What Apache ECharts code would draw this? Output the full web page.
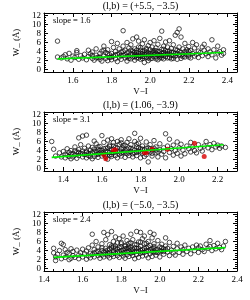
<!DOCTYPE html>
<html><head><meta charset="utf-8">
<script src="https://cdn.jsdelivr.net/npm/echarts@6/dist/echarts.min.js"></script>
<style>html,body{margin:0;padding:0;background:#fff}#c{width:250px;height:300px}</style>
</head><body><div id="c"></div>
<script>
// Panel titles and fit slopes
const panelTitles = ["(l,b) = (+5.5, \u22123.5)", "(l,b) = (1.06, \u22123.9)", "(l,b) = (\u22125.0, \u22123.5)"];
const slopeLabels = ["slope = 1.6", "slope = 3.1", "slope = 2.4"];
const xRanges = [[1.45, 2.45], [1.3, 2.3], [1.4, 2.4]];
const yRange = [-0.5, 12.5];

// Panel 1 stars (V-I, W)
const panel1Points = [[1.52,6.3],[1.52,2.8],[1.54,2.6],[1.55,2.9],[1.56,3.3],[1.57,2.4],[1.58,3.6],[1.59,2.1],[1.60,3.0],[1.61,2.7],[1.62,4.2],[1.62,3.8],[1.63,2.3],[1.64,3.1],[1.65,2.6],[1.66,3.4],[1.67,2.2],[1.68,4.3],[1.68,2.9],[1.69,3.5],[1.70,2.5],[1.70,3.9],[1.71,2.1],[1.72,3.2],[1.72,4.6],[1.73,2.7],[1.74,3.6],[1.74,2.3],[1.75,4.1],[1.75,1.9],[1.76,3.0],[1.76,5.2],[1.77,2.5],[1.77,3.8],[1.78,2.0],[1.78,4.4],[1.79,3.3],[1.79,2.7],[1.80,6.2],[1.80,3.6],[1.80,2.2],[1.81,4.9],[1.81,3.0],[1.82,2.4],[1.82,4.0],[1.83,5.8],[1.83,3.4],[1.83,1.8],[1.84,2.8],[1.84,4.6],[1.85,3.9],[1.85,2.3],[1.86,8.6],[1.86,3.2],[1.86,5.2],[1.87,2.6],[1.87,4.3],[1.88,3.7],[1.88,1.9],[1.88,6.0],[1.89,3.0],[1.89,4.8],[1.90,2.4],[1.90,3.5],[1.90,5.5],[1.91,4.1],[1.91,2.8],[1.91,6.8],[1.92,3.3],[1.92,2.1],[1.92,4.6],[1.93,7.2],[1.93,3.8],[1.93,2.6],[1.94,5.0],[1.94,3.1],[1.94,6.3],[1.95,4.3],[1.95,2.3],[1.95,3.6],[1.96,5.7],[1.96,2.9],[1.96,4.0],[1.97,3.4],[1.97,6.6],[1.97,1.6],[1.98,4.7],[1.98,2.7],[1.98,3.9],[1.99,5.3],[1.99,3.2],[1.99,2.0],[2.00,4.4],[2.00,6.0],[2.00,3.0],[2.01,3.7],[2.01,2.5],[2.01,5.0],[2.02,4.2],[2.02,3.3],[2.02,6.4],[2.03,2.8],[2.03,4.8],[2.03,3.6],[2.04,5.6],[2.04,2.2],[2.04,4.0],[2.05,3.4],[2.05,6.9],[2.05,2.6],[2.06,8.5],[2.06,4.5],[2.06,3.1],[2.07,5.2],[2.07,2.4],[2.07,3.8],[2.08,4.2],[2.08,6.1],[2.08,2.9],[2.09,3.5],[2.09,5.0],[2.10,2.7],[2.10,4.1],[2.10,6.4],[2.11,3.2],[2.11,4.7],[2.12,2.5],[2.12,3.8],[2.12,5.5],[2.13,7.6],[2.13,3.0],[2.13,4.4],[2.14,8.2],[2.14,2.3],[2.14,3.6],[2.15,9.0],[2.15,5.0],[2.15,4.0],[2.16,7.2],[2.16,3.1],[2.16,2.5],[2.17,4.6],[2.17,3.4],[2.18,5.8],[2.18,2.8],[2.19,3.9],[2.19,4.4],[2.20,3.2],[2.20,5.1],[2.21,2.6],[2.21,4.2],[2.22,3.6],[2.22,6.0],[2.23,3.0],[2.23,4.8],[2.24,5.5],[2.24,3.4],[2.25,2.7],[2.25,4.1],[2.26,3.8],[2.27,5.0],[2.27,3.1],[2.28,5.6],[2.28,4.3],[2.29,3.5],[2.30,2.9],[2.30,4.6],[2.31,3.9],[2.32,6.6],[2.32,3.3],[2.33,4.4],[2.34,2.6],[2.35,5.2],[2.35,3.7],[2.36,4.0],[2.37,3.2],[2.38,4.4],[2.38,3.6],
[1.84,3.5],[1.85,3.1],[1.86,4.0],[1.87,3.3],[1.88,2.9],[1.89,3.9],[1.89,2.5],[1.90,4.3],[1.91,3.4],[1.92,3.9],[1.92,2.9],[1.93,4.3],[1.93,3.2],[1.94,3.7],[1.94,2.6],[1.95,4.9],[1.95,3.0],[1.96,3.5],[1.96,2.5],[1.97,4.2],[1.97,2.9],[1.98,3.4],[1.98,4.4],[1.99,3.7],[1.99,2.6],[2.00,3.5],[2.00,2.4],[2.01,4.1],[2.02,2.9],[2.02,3.8],[2.03,4.2],[2.03,2.4],[2.04,3.3],[2.05,4.0],[2.05,3.0],[2.06,3.6],[2.06,2.6],[2.07,4.5],[2.07,3.2],[2.08,3.5],[2.09,2.6],[2.09,4.0],[2.10,3.5],[2.11,2.4],[2.11,3.8],[2.12,3.1],[2.13,3.6],[2.14,4.3],[2.15,3.3],[2.16,3.8],[2.17,2.9],[2.18,4.0],[2.19,3.3],[2.20,2.8],[2.20,4.0],[1.78,3.5],[1.80,2.8],[1.82,3.3],[1.76,4.3],[1.74,2.8],[1.72,2.6],[1.70,3.1]];

const panel2Points = [[1.34,6.0],[1.35,4.3],[1.36,2.8],[1.38,3.5],[1.39,2.6],[1.40,3.8],[1.41,3.2],[1.41,2.4],[1.42,4.4],[1.42,3.0],[1.43,2.7],[1.43,3.6],[1.44,2.2],[1.44,4.0],[1.45,3.3],[1.45,2.6],[1.46,4.8],[1.46,3.0],[1.47,3.7],[1.47,2.3],[1.48,6.8],[1.48,4.2],[1.48,2.9],[1.49,3.4],[1.49,5.3],[1.50,7.2],[1.50,2.6],[1.50,3.9],[1.51,4.5],[1.51,3.1],[1.52,7.4],[1.52,2.4],[1.52,3.6],[1.53,5.0],[1.53,2.9],[1.54,4.1],[1.54,3.3],[1.55,2.2],[1.55,4.7],[1.56,3.7],[1.56,6.1],[1.56,2.7],[1.57,3.1],[1.57,5.5],[1.58,4.3],[1.58,2.5],[1.59,3.5],[1.59,4.9],[1.60,7.3],[1.60,2.8],[1.60,4.0],[1.61,3.3],[1.61,5.8],[1.62,2.6],[1.62,4.5],[1.63,3.7],[1.63,6.3],[1.63,2.1],[1.64,3.0],[1.64,5.2],[1.65,4.2],[1.65,2.7],[1.65,6.6],[1.66,3.5],[1.66,5.0],[1.67,2.9],[1.67,4.7],[1.68,3.8],[1.68,6.0],[1.68,2.4],[1.69,3.2],[1.69,5.4],[1.70,4.4],[1.70,2.8],[1.70,6.4],[1.71,3.6],[1.71,5.1],[1.72,2.5],[1.72,4.1],[1.73,5.8],[1.73,3.3],[1.74,4.6],[1.74,2.9],[1.74,6.6],[1.75,3.8],[1.75,5.3],[1.76,2.6],[1.76,4.3],[1.77,7.8],[1.77,3.5],[1.77,6.0],[1.78,4.8],[1.78,2.9],[1.79,3.9],[1.79,5.6],[1.80,2.4],[1.80,4.4],[1.80,6.7],[1.81,3.4],[1.81,5.0],[1.82,2.7],[1.82,4.2],[1.83,5.9],[1.83,3.1],[1.84,4.6],[1.84,1.5],[1.85,3.7],[1.85,5.3],[1.86,2.8],[1.86,4.1],[1.87,6.2],[1.88,3.5],[1.88,4.8],[1.89,2.6],[1.90,4.2],[1.90,5.5],[1.91,3.2],[1.92,4.6],[1.92,3.8],[1.93,7.7],[1.93,2.4],[1.94,5.0],[1.95,6.5],[1.95,3.6],[1.96,4.4],[1.97,3.0],[1.97,5.2],[1.98,4.0],[1.99,3.4],[1.99,5.9],[2.00,4.6],[2.01,2.8],[2.01,5.4],[2.02,4.1],[2.03,3.3],[2.04,5.0],[2.05,4.4],[2.06,3.7],[2.06,5.8],[2.07,4.8],[2.08,4.0],[2.09,3.5],[2.10,5.3],[2.11,4.5],[2.12,3.9],[2.13,5.0],[2.14,6.0],[2.15,4.6],[2.16,5.3],[2.17,4.2],[2.18,5.6],[2.19,4.8],[2.20,5.2],[2.21,4.5],[2.22,5.0],[2.24,4.7],
[1.50,3.3],[1.52,3.9],[1.53,3.4],[1.54,2.7],[1.55,3.6],[1.56,4.3],[1.57,3.8],[1.58,3.2],[1.59,4.1],[1.60,3.5],[1.61,4.4],[1.62,3.9],[1.62,3.1],[1.63,4.6],[1.64,3.6],[1.65,3.1],[1.66,4.3],[1.67,3.7],[1.68,4.5],[1.69,3.9],[1.70,3.4],[1.71,4.6],[1.72,3.7],[1.73,4.3],[1.74,3.5],[1.75,4.5],[1.76,3.3],[1.77,4.1],[1.78,3.6],[1.79,4.6],[1.80,3.7],[1.81,4.3],[1.82,3.6],[1.83,4.5],[1.84,3.9],[1.85,4.4],[1.86,3.4],[1.87,4.5],[1.88,4.1],[1.89,3.7],[1.48,3.6],[1.46,3.9],[1.44,3.3],[1.58,4.8],[1.64,4.9],[1.72,5.2],[1.78,5.4],[1.66,5.8],[1.70,5.7]];
const panel2Red = [[1.61,3.0],[1.62,2.2],[1.66,4.0],[1.67,4.2],[1.82,3.6],[1.83,3.5],[1.86,4.3],[1.94,4.3],[2.08,5.6],[2.13,2.7]];

const panel3Points = [[1.45,4.5],[1.45,3.5],[1.46,1.8],[1.46,2.6],[1.47,3.2],[1.48,4.0],[1.49,5.6],[1.49,2.2],[1.50,5.3],[1.50,3.0],[1.51,2.5],[1.51,4.2],[1.52,3.6],[1.53,2.0],[1.53,3.3],[1.54,4.4],[1.54,2.3],[1.55,2.9],[1.55,3.8],[1.56,2.5],[1.57,4.1],[1.58,3.0],[1.58,2.2],[1.59,3.5],[1.60,4.3],[1.60,2.6],[1.61,3.3],[1.62,2.1],[1.62,3.9],[1.63,2.8],[1.63,4.6],[1.64,3.4],[1.64,2.4],[1.65,7.6],[1.65,5.2],[1.65,3.1],[1.66,4.2],[1.66,2.6],[1.67,3.7],[1.67,6.0],[1.68,2.9],[1.68,4.8],[1.69,3.4],[1.69,2.3],[1.70,5.5],[1.70,4.0],[1.70,3.0],[1.71,8.0],[1.71,3.6],[1.71,2.6],[1.72,4.5],[1.72,6.4],[1.72,3.2],[1.73,7.5],[1.73,2.8],[1.73,4.1],[1.74,5.3],[1.74,3.6],[1.74,2.4],[1.75,8.2],[1.75,4.6],[1.75,3.1],[1.76,6.0],[1.76,3.9],[1.76,2.7],[1.77,5.0],[1.77,3.4],[1.77,7.0],[1.78,4.3],[1.78,2.9],[1.78,5.7],[1.79,3.8],[1.79,2.5],[1.79,6.6],[1.80,4.8],[1.80,3.3],[1.80,5.5],[1.81,4.1],[1.81,2.8],[1.81,7.2],[1.82,3.6],[1.82,5.1],[1.82,2.3],[1.83,4.5],[1.83,6.2],[1.83,3.1],[1.84,3.9],[1.84,5.6],[1.84,2.7],[1.85,4.7],[1.85,3.4],[1.85,7.6],[1.86,6.4],[1.86,2.9],[1.86,4.2],[1.87,5.3],[1.87,3.7],[1.87,2.2],[1.88,8.2],[1.88,4.5],[1.88,3.1],[1.89,5.9],[1.89,3.8],[1.89,2.5],[1.90,8.0],[1.90,4.9],[1.90,3.4],[1.91,6.6],[1.91,4.2],[1.91,2.8],[1.92,5.5],[1.92,3.6],[1.92,7.2],[1.93,4.6],[1.93,3.0],[1.94,6.0],[1.94,3.9],[1.94,2.4],[1.95,8.0],[1.95,5.1],[1.95,3.3],[1.96,4.4],[1.96,6.8],[1.96,2.7],[1.97,7.6],[1.97,3.7],[1.97,5.5],[1.98,4.2],[1.98,3.0],[1.99,6.2],[1.99,3.6],[2.00,4.8],[2.00,2.6],[2.01,5.4],[2.01,3.9],[2.02,4.4],[2.02,3.2],[2.03,6.8],[2.03,5.0],[2.04,3.7],[2.04,4.5],[2.05,2.9],[2.05,5.8],[2.06,4.1],[2.07,3.5],[2.07,4.9],[2.08,3.0],[2.09,4.4],[2.09,5.6],[2.10,3.6],[2.11,4.8],[2.12,3.2],[2.12,4.2],[2.13,5.2],[2.14,3.8],[2.15,4.5],[2.16,3.3],[2.17,4.8],[2.18,4.0],[2.19,5.2],[2.20,3.6],[2.20,4.6],[2.21,5.0],[2.22,4.2],[2.23,3.8],[2.24,5.4],[2.25,4.5],[2.26,6.2],[2.26,4.9],[2.27,4.0],[2.28,5.1],[2.29,4.4],[2.30,5.6],[2.31,4.7],[2.32,4.2],[2.33,5.0],[2.34,6.0],
[1.72,3.9],[1.74,4.3],[1.76,3.5],[1.77,4.5],[1.78,3.7],[1.79,4.6],[1.80,4.0],[1.81,3.5],[1.82,4.4],[1.83,3.8],[1.84,4.5],[1.85,4.1],[1.86,3.6],[1.87,4.6],[1.88,3.9],[1.89,4.5],[1.90,4.1],[1.91,3.6],[1.92,4.5],[1.93,4.0],[1.94,4.8],[1.95,4.2],[1.96,3.8],[1.97,4.5],[1.98,3.6],[1.99,4.3],[2.00,3.9],[2.01,4.6],[2.02,3.8],[2.03,4.2],[1.75,5.0],[1.80,5.8],[1.85,5.7],[1.90,5.9],[1.93,5.6],[1.97,4.9],[1.84,5.0],[1.88,5.3],[1.76,4.8],[1.82,4.9],[1.70,4.6],[1.68,3.8],[1.66,3.5],[1.73,3.4]];

// Linear fits (endpoints)
const fit1 = [[1.52,2.4],[2.38,3.8]];
const fit2 = [[1.34,2.5],[2.23,5.3]];
const fit3 = [[1.45,2.5],[2.34,4.65]];

const gridTops = [13, 112, 212];
const FONT = '"Liberation Serif", "DejaVu Serif", serif';
const chart = echarts.init(document.getElementById('c'), null, {renderer:'canvas'});

const grids = [], xAxes = [], yAxes = [], series = [], graphics = [];
const lineStyle = {color:'#000', width:1};
for (let i = 0; i < 3; i++) {
  grids.push({left:44, right:13, top:gridTops[i], height:59, containLabel:false});
  const showEnd = (i === 2);
  xAxes.push({type:'value', gridIndex:i, position:'bottom', min:xRanges[i][0], max:xRanges[i][1], splitNumber:5,
    axisLine:{show:true, onZero:false, lineStyle}, axisTick:{show:true, inside:true, length:4, lineStyle},
    minorTick:{show:true, splitNumber:4, length:2, lineStyle},
    splitLine:{show:false},
    axisLabel:{fontFamily:FONT, fontSize:9, color:'#000', margin:4, showMinLabel:showEnd, showMaxLabel:showEnd,
      formatter:v => v.toFixed(1)},
    name:'V\u2212I', nameLocation:'middle', nameGap:15, nameTextStyle:{fontFamily:FONT, fontSize:9, color:'#000'}});
  xAxes.push({type:'value', gridIndex:i, position:'top', min:xRanges[i][0], max:xRanges[i][1], splitNumber:5,
    axisLine:{show:true, onZero:false, lineStyle}, axisTick:{show:true, inside:true, length:4, lineStyle},
    minorTick:{show:true, splitNumber:4, length:2, lineStyle},
    splitLine:{show:false}, axisLabel:{show:false}});
  yAxes.push({type:'value', gridIndex:i, position:'left', min:yRange[0], max:yRange[1], splitNumber:6,
    axisLine:{show:true, onZero:false, lineStyle}, axisTick:{show:true, inside:true, length:4, lineStyle},
    minorTick:{show:true, splitNumber:4, length:2, lineStyle},
    splitLine:{show:false},
    axisLabel:{fontFamily:FONT, fontSize:9, color:'#000', margin:3, showMinLabel:false, showMaxLabel:false},
    name:'W_ (\u00c5)', nameLocation:'middle', nameRotate:90, nameGap:13, nameTextStyle:{fontFamily:FONT, fontSize:9, color:'#000'}});
  yAxes.push({type:'value', gridIndex:i, position:'right', min:yRange[0], max:yRange[1], splitNumber:6,
    axisLine:{show:true, onZero:false, lineStyle}, axisTick:{show:true, inside:true, length:4, lineStyle},
    minorTick:{show:true, splitNumber:4, length:2, lineStyle},
    splitLine:{show:false}, axisLabel:{show:false}});
  graphics.push({type:'text', x:140.5, y:gridTops[i]-7,
    style:{text:panelTitles[i], font:'10px ' + FONT, fill:'#000', textAlign:'center', textVerticalAlign:'middle'}});
  graphics.push({type:'text', x:53, y:gridTops[i]+8,
    style:{text:slopeLabels[i], font:'8.5px ' + FONT, fill:'#000', textAlign:'left', textVerticalAlign:'middle'}});
}
const pts = [panel1Points, panel2Points, panel3Points];
const fits = [fit1, fit2, fit3];
for (let i = 0; i < 3; i++) {
  series.push({type:'scatter', xAxisIndex:2*i, yAxisIndex:2*i, data:pts[i], symbol:'circle', symbolSize:4.5,
    itemStyle:{color:'rgba(0,0,0,0)', borderColor:'#111', borderWidth:0.75, opacity:1}, silent:true, animation:false});
  if (i === 1) {
    series.push({type:'scatter', xAxisIndex:2, yAxisIndex:2, data:panel2Red, symbol:'circle', symbolSize:5,
      itemStyle:{color:'#d80000'}, z:4, animation:false});
  }
  series.push({type:'line', xAxisIndex:2*i, yAxisIndex:2*i, data:fits[i], symbol:'none',
    lineStyle:{color:'#00ee00', width:1.6}, z:5, animation:false});
}
chart.setOption({animation:false, grid:grids, xAxis:xAxes, yAxis:yAxes, series:series, graphic:graphics});
</script></body></html>
